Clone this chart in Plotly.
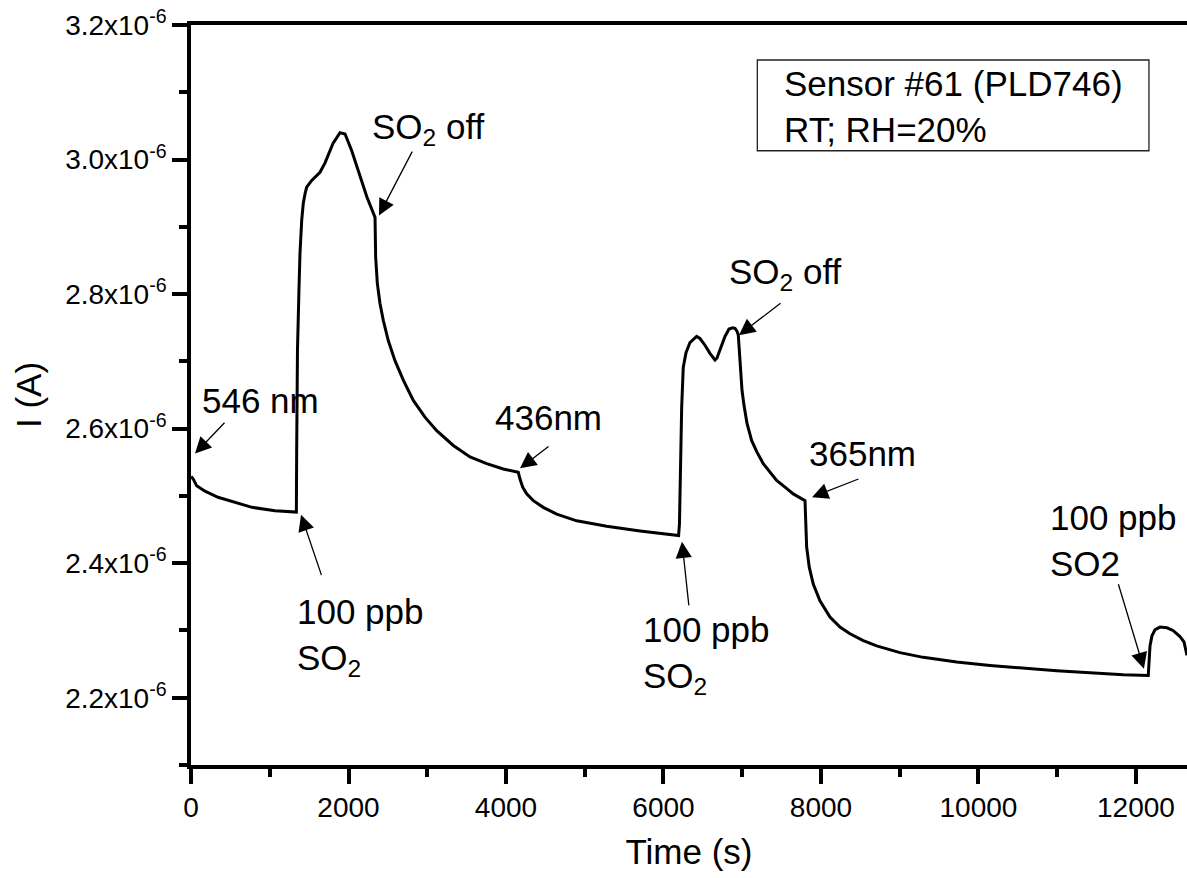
import numpy as np
import plotly.graph_objects as go

# Photocurrent trace of sensor #61 under light / 100 ppb SO2 pulses
time_s = [0, 29, 72, 178, 343, 559, 775, 1067, 1338,
          1342, 1346, 1352, 1371, 1384, 1406, 1426, 1450, 1469, 1533, 1638, 1702, 1803,
          1892, 1956, 2041, 2146, 2235, 2337,
          2345, 2366, 2400, 2442, 2505, 2590, 2696, 2823, 2971, 3120, 3331, 3543, 3755, 3966, 4156,
          4178, 4212, 4263, 4347, 4473, 4644, 4898, 5279, 5702, 6192,
          6203, 6231, 6251, 6286, 6336, 6421, 6463, 6527, 6590, 6628, 6654, 6679, 6730, 6781,
          6832, 6879, 6908, 6933, 6950,
          6965, 6978, 6997, 7022, 7060, 7120, 7187, 7267, 7352, 7437, 7543, 7648, 7797,
          7806, 7818, 7851, 7902, 7987, 8114, 8241, 8368, 8537, 8707, 9003, 9299, 9723,
          10146, 10993, 11839, 12156,
          12165, 12178, 12203, 12241, 12305, 12394, 12470, 12559, 12610, 12648]
current_uA = [2.529, 2.525, 2.515, 2.507, 2.498, 2.490, 2.483, 2.478, 2.476,
              2.568, 2.650, 2.716, 2.806, 2.861, 2.910, 2.935, 2.950, 2.959, 2.969, 2.981, 2.995, 3.024,
              3.040, 3.038, 3.013, 2.974, 2.944, 2.914,
              2.855, 2.816, 2.786, 2.761, 2.731, 2.701, 2.672, 2.642, 2.617, 2.597, 2.575, 2.558,
              2.548, 2.540, 2.535,
              2.525, 2.513, 2.503, 2.493, 2.483, 2.473, 2.463, 2.455, 2.448, 2.441,
              2.459, 2.632, 2.691, 2.713, 2.728, 2.737, 2.734, 2.724, 2.712, 2.705, 2.702, 2.705,
              2.721, 2.737, 2.748, 2.750, 2.749, 2.745, 2.739,
              2.716, 2.687, 2.657, 2.635, 2.608, 2.582, 2.565, 2.548, 2.535, 2.523, 2.513, 2.503, 2.493,
              2.463, 2.424, 2.394, 2.369, 2.344, 2.320, 2.305, 2.295, 2.285, 2.277, 2.267, 2.260, 2.253,
              2.248, 2.240, 2.234, 2.233,
              2.255, 2.277, 2.292, 2.301, 2.305, 2.304, 2.300, 2.291, 2.283, 2.263]

y_tick_vals = [2.2, 2.4, 2.6, 2.8, 3.0, 3.2]
y_tick_text = ["2.2x10<sup>-6</sup>", "2.4x10<sup>-6</sup>", "2.6x10<sup>-6</sup>",
               "2.8x10<sup>-6</sup>", "3.0x10<sup>-6</sup>", "3.2x10<sup>-6</sup>"]
y_minor_vals = [2.1, 2.3, 2.5, 2.7, 2.9, 3.1]
x_tick_vals = [0, 2000, 4000, 6000, 8000, 10000, 12000]
x_minor_vals = [1000, 3000, 5000, 7000, 9000, 11000]

# event labels: text, text anchor (x, y in µA), arrow tail, arrow head
events = [
    ("546 nm", (114, 2.642), (444, 2.611), (51, 2.563)),
    ("SO<sub>2</sub> off", (2273, 3.046), (2819, 3.014), (2387, 2.917)),
    ("100 ppb<br>SO<sub>2</sub>", (1321, 2.290), (1663, 2.380), (1397, 2.472)),
    ("436nm", (3835, 2.617), (4559, 2.575), (4178, 2.541)),
    ("100 ppb<br>SO<sub>2</sub>", (5714, 2.263), (6324, 2.335), (6235, 2.432)),
    ("SO<sub>2</sub> off", (6806, 2.830), (7505, 2.788), (6958, 2.739)),
    ("365nm", (7822, 2.563), (8495, 2.526), (7886, 2.498)),
    ("100 ppb<br>SO2", (10882, 2.433), (11771, 2.371), (12101, 2.243)),
]

FONT = "Arial, Liberation Sans, sans-serif"
MICRO = 1e-6

t = np.array(time_s)
i_amp = np.array(current_uA) * MICRO

fig = go.Figure()
fig.add_trace(go.Scatter(x=t, y=i_amp, mode="lines",
                         line=dict(color="black", width=3), showlegend=False,
                         hoverinfo="skip"))

annotations = []
for text, (tx, ty), (ax_, ay_), (hx, hy) in events:
    annotations.append(dict(x=tx, y=ty * MICRO, xref="x", yref="y", text=text,
                            showarrow=False, xanchor="left", yanchor="middle",
                            align="left", font=dict(family=FONT, size=35, color="black")))
    annotations.append(dict(x=hx, y=hy * MICRO, xref="x", yref="y",
                            ax=ax_, ay=ay_ * MICRO, axref="x", ayref="y", text="",
                            showarrow=True, arrowhead=2, arrowsize=2.5, arrowwidth=1.3,
                            arrowcolor="black", standoff=0, startstandoff=0))

annotations.append(dict(x=0.5934, y=0.8901, xref="paper", yref="paper",
                        text="Sensor #61 (PLD746)<br>RT; RH=20%", showarrow=False,
                        xanchor="left", yanchor="middle", align="left",
                        font=dict(family=FONT, size=35, color="black")))

fig.update_layout(
    width=1187, height=878,
    margin=dict(l=191, r=0, t=25, b=113),
    plot_bgcolor="white", paper_bgcolor="white",
    font=dict(family=FONT, color="black"),
    annotations=annotations,
    shapes=[dict(type="rect", xref="paper", yref="paper",
                 x0=0.5686, x1=0.9618, y0=0.8301, y1=0.9527,
                 line=dict(color="#222", width=1.3), fillcolor="rgba(0,0,0,0)")],
)

fig.update_xaxes(
    range=[0, 12648], showgrid=False, zeroline=False,
    showline=True, linecolor="black", linewidth=3.5, mirror=True,
    ticks="outside", ticklen=15, tickwidth=3.5, tickcolor="black",
    tickmode="array", tickvals=x_tick_vals, ticktext=[str(v) for v in x_tick_vals],
    tickfont=dict(family=FONT, size=28, color="black"),
    minor=dict(ticks="outside", ticklen=8, tickwidth=3.5, tickcolor="black",
               tickvals=x_minor_vals),
    title=dict(text="Time (s)", font=dict(family=FONT, size=35, color="black"),
               standoff=18),
)

fig.update_yaxes(
    range=[2.1 * MICRO, 3.2 * MICRO], showgrid=False, zeroline=False,
    showline=True, linecolor="black", linewidth=3.5, mirror=False,
    ticks="outside", ticklen=15, tickwidth=3.5, tickcolor="black",
    tickmode="array", tickvals=[v * MICRO for v in y_tick_vals], ticktext=y_tick_text,
    tickfont=dict(family=FONT, size=28, color="black"),
    minor=dict(ticks="outside", ticklen=8, tickwidth=3.5, tickcolor="black",
               tickvals=[v * MICRO for v in y_minor_vals]),
    title=dict(text="I (A)", font=dict(family=FONT, size=35, color="black"),
               standoff=14),
)

fig.write_html("out.html")
